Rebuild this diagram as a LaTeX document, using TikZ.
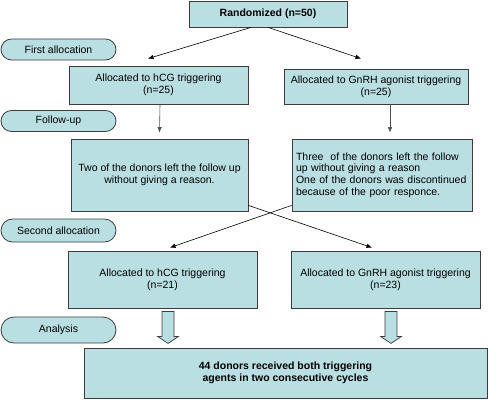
\documentclass[tikz,border=0pt]{standalone}
\usepackage{fontspec}
\setmainfont{Liberation Sans}
\usetikzlibrary{arrows.meta,shapes.misc}

\definecolor{boxfill}{RGB}{186,223,226}
\definecolor{boxline}{RGB}{60,60,60}

\tikzset{
  flowbox/.style={draw=boxline,line width=0.8pt,fill=boxfill,inner sep=2pt,align=center,
    font=\fontsize{10.5}{11.6}\selectfont},
  stagebox/.style={rounded rectangle,draw=boxline,line width=0.8pt,fill=boxfill,inner sep=0pt,
    font=\fontsize{10.5}{11.6}\selectfont},
  arr/.style={-{Latex[length=5.5pt,width=4.5pt]},line width=0.6pt},
  fatarrow/.style={draw=boxline,line width=0.7pt,fill=boxfill,line join=miter}
}

\begin{document}
\begin{tikzpicture}[x=1pt,y=1pt,yscale=-1,xscale=1]
\useasboundingbox (0,0) rectangle (489,400);

% stage labels
\node[stagebox,minimum width=115pt,minimum height=21pt] (stage1) at (58.5,49.5) {First allocation};
\node[stagebox,minimum width=115pt,minimum height=21pt] (stage2) at (58.5,121) {Follow-up};
\node[stagebox,minimum width=115pt,minimum height=23pt] (stage3) at (58.5,230.5) {Second allocation};
\node[stagebox,minimum width=115pt,minimum height=26pt] (stage4) at (58.5,330) {Analysis};

% boxes
\node[flowbox,minimum width=158pt,minimum height=26pt,font=\fontsize{10.5}{11.6}\selectfont\bfseries] (rand) at (268,14) {Randomized (n=50)};
\node[flowbox,minimum width=179pt,minimum height=38pt] (hcgA) at (158.5,85) {Allocated to hCG triggering\\(n=25)};
\node[flowbox,minimum width=184pt,minimum height=35pt] (gnrhA) at (376,86.5) {Allocated to GnRH agonist triggering\\(n=25)};
\node[flowbox,minimum width=177pt,minimum height=72pt] (lostA) at (159.5,175) {Two of the donors left the follow up\\without giving a reason.};
\node[flowbox,minimum width=180pt,minimum height=72pt,text width=172pt,inner xsep=4pt,align=left] (lostB) at (382,175)
  {Three\ \ of the donors left the follow\\up without giving a reason\\One of the donors was discontinued\\because of the poor responce.};
\node[flowbox,minimum width=189pt,minimum height=57pt] (hcgB) at (162.5,279.5) {Allocated to hCG triggering\\(n=21)};
\node[flowbox,minimum width=189pt,minimum height=57pt] (gnrhB) at (385.5,279.5) {Allocated to GnRH agonist triggering\\(n=23)};
\node[flowbox,minimum width=403pt,minimum height=50pt,font=\fontsize{10.5}{11.6}\selectfont\bfseries] (both) at (285.5,373) {44 donors received both triggering\\agents in two consecutive cycles};

% connectors
\draw[arr] ([xshift=-17pt]rand.south) -- ([xshift=-10.5pt,yshift=-7pt]hcgA.north);
\draw[arr] (rand.south) -- ([xshift=-15pt,yshift=-10pt]gnrhA.north);
\draw[arr,draw=black!70] ([xshift=1.5pt]hcgA.south) -- ([yshift=-6pt]lostA.north);
\draw[arr,draw=black!70] ([xshift=14pt]gnrhA.south) -- ([xshift=8pt,yshift=-6pt]lostB.north);
\draw[arr] ([yshift=-6pt]lostA.south east) -- ([xshift=-13.5pt,yshift=-3pt]gnrhB.north);
\draw[arr] ([yshift=-6pt]lostB.south west) -- ([xshift=7.5pt,yshift=-3pt]hcgB.north);

% block arrows
\draw[fatarrow] ([xshift=-0.5pt,yshift=3pt]hcgB.south) -- ++(12,0) -- ++(0,25) -- ++(4.5,0)
  -- ++(-10.5,7) -- ++(-10.5,-7) -- ++(4.5,0) -- cycle;
\draw[fatarrow] ([xshift=-0.5pt,yshift=3pt]gnrhB.south) -- ++(12,0) -- ++(0,25) -- ++(4.5,0)
  -- ++(-10.5,7) -- ++(-10.5,-7) -- ++(4.5,0) -- cycle;

\end{tikzpicture}
\end{document}
